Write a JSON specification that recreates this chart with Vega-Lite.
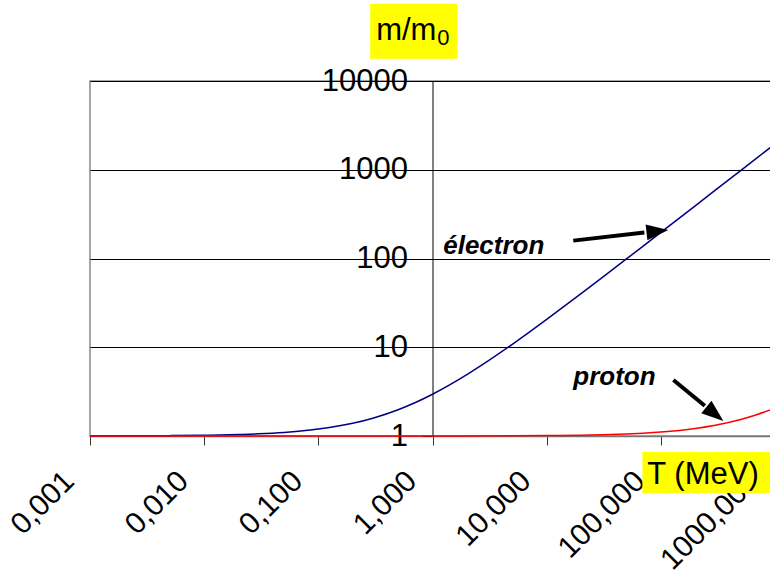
{
  "$schema": "https://vega.github.io/schema/vega-lite/v6.json",
  "width": 685,
  "height": 355,
  "autosize": {"type": "none"},
  "padding": {"left": 90, "top": 81, "right": -5, "bottom": 141},
  "background": "white",
  "config": {"view": {"stroke": "#888888", "strokeWidth": 1.5}, "font": "Liberation Sans"},
  "encoding": {
    "x": {"field": "T", "type": "quantitative",
      "scale": {"type": "log", "domain": [0.001, 1000], "nice": false},
      "axis": {"values": [0.001, 0.01, 0.1, 1, 10, 100, 1000],
        "labelExpr": "replace(format(datum.value,'.3f'),'.',',')",
        "labelAngle": -45, "labelAlign": "right", "labelBaseline": "middle",
        "labelFontSize": 30, "labelFont": "Liberation Sans", "labelColor": "black",
        "labelOffset": -21, "labelPadding": 31,
        "labelFlush": false, "labelOverlap": false, "labelBound": false,
        "tickSize": 9, "tickColor": "#333333", "domainColor": "#777777", "domainWidth": 1.5,
        "grid": false, "title": null}},
    "y": {"field": "m", "type": "quantitative",
      "scale": {"type": "log", "domain": [1, 10000], "nice": false},
      "axis": {"values": [1, 10, 100, 1000, 10000], "format": "d", "offset": -342.5,
        "labelFontSize": 31, "labelFont": "Liberation Sans", "labelColor": "black", "labelPadding": 15,
        "labelFlush": false, "labelOverlap": false, "labelBound": false,
        "tickSize": 10, "tickColor": "black", "domainColor": "black", "domainWidth": 1,
        "grid": true, "gridColor": "black", "gridWidth": 1, "gridOpacity": 1, "title": null}}
  },
  "layer": [
    {
      "data": {"values": [
        {"T": 0.2845, "T2": 1.646, "m": 74200, "m2": 17800},
        {"T": 68.9, "T2": 3000, "m": 0.66, "m2": 0.2276}
      ]},
      "mark": {"type": "rect", "color": "#FFFF00"},
      "encoding": {"x2": {"field": "T2"}, "y2": {"field": "m2"}}
    },
    {
      "data": {"values": [
        {"particle": "électron", "T": 0.001, "m": 1.00196},
        {"particle": "électron", "T": 0.002, "m": 1.00391},
        {"particle": "électron", "T": 0.005, "m": 1.00978},
        {"particle": "électron", "T": 0.01, "m": 1.01957},
        {"particle": "électron", "T": 0.02, "m": 1.03914},
        {"particle": "électron", "T": 0.03, "m": 1.05871},
        {"particle": "électron", "T": 0.05, "m": 1.09785},
        {"particle": "électron", "T": 0.07, "m": 1.13699},
        {"particle": "électron", "T": 0.1, "m": 1.1957},
        {"particle": "électron", "T": 0.2, "m": 1.39139},
        {"particle": "électron", "T": 0.3, "m": 1.58708},
        {"particle": "électron", "T": 0.5, "m": 1.97847},
        {"particle": "électron", "T": 0.7, "m": 2.36986},
        {"particle": "électron", "T": 1, "m": 2.95695},
        {"particle": "électron", "T": 2, "m": 4.91389},
        {"particle": "électron", "T": 3, "m": 6.87084},
        {"particle": "électron", "T": 5, "m": 10.7847},
        {"particle": "électron", "T": 7, "m": 14.6986},
        {"particle": "électron", "T": 10, "m": 20.5695},
        {"particle": "électron", "T": 20, "m": 40.1389},
        {"particle": "électron", "T": 30, "m": 59.7084},
        {"particle": "électron", "T": 50, "m": 98.8474},
        {"particle": "électron", "T": 70, "m": 137.986},
        {"particle": "électron", "T": 100, "m": 196.695},
        {"particle": "électron", "T": 200, "m": 392.389},
        {"particle": "électron", "T": 300, "m": 588.084},
        {"particle": "électron", "T": 500, "m": 979.474},
        {"particle": "électron", "T": 700, "m": 1370.86},
        {"particle": "électron", "T": 1000, "m": 1957.95},
        {"particle": "proton", "T": 0.001, "m": 1.000001},
        {"particle": "proton", "T": 0.01, "m": 1.00001},
        {"particle": "proton", "T": 0.1, "m": 1.000107},
        {"particle": "proton", "T": 1, "m": 1.001066},
        {"particle": "proton", "T": 2, "m": 1.00213},
        {"particle": "proton", "T": 5, "m": 1.00533},
        {"particle": "proton", "T": 10, "m": 1.01066},
        {"particle": "proton", "T": 20, "m": 1.02132},
        {"particle": "proton", "T": 30, "m": 1.03197},
        {"particle": "proton", "T": 50, "m": 1.05329},
        {"particle": "proton", "T": 70, "m": 1.07461},
        {"particle": "proton", "T": 100, "m": 1.10658},
        {"particle": "proton", "T": 200, "m": 1.21316},
        {"particle": "proton", "T": 300, "m": 1.31974},
        {"particle": "proton", "T": 500, "m": 1.5329},
        {"particle": "proton", "T": 700, "m": 1.74606},
        {"particle": "proton", "T": 1000, "m": 2.06579}
      ]},
      "mark": {"type": "line", "strokeWidth": 1.5, "interpolate": "monotone"},
      "encoding": {
        "color": {"field": "particle", "type": "nominal",
          "scale": {"domain": ["électron", "proton"], "range": ["#000080", "#FF0000"]},
          "legend": null}
      }
    },
    {
      "data": {"values": [
        {"T": 17.1, "m": 159, "T2": 71.8, "m2": 196},
        {"T": 128.8, "m": 4.28, "T2": 242.6, "m2": 2.19}
      ]},
      "mark": {"type": "rule", "strokeWidth": 4, "color": "black"},
      "encoding": {"x2": {"field": "T2"}, "y2": {"field": "m2"}}
    },
    {
      "data": {"values": [{"T": 116.4, "m": 210}]},
      "mark": {"type": "point", "shape": "M0,0 L-2,-0.73 L-2,0.73 Z", "size": 484, "filled": true, "color": "black", "opacity": 1, "strokeWidth": 0, "angle": -6.4}
    },
    {
      "data": {"values": [{"T": 353, "m": 1.476}]},
      "mark": {"type": "point", "shape": "M0,0 L-2,-0.73 L-2,0.73 Z", "size": 484, "filled": true, "color": "black", "opacity": 1, "strokeWidth": 0, "angle": 39.4}
    },
    {
      "data": {"values": [
        {"T": 1.241, "m": 112.7, "label": "électron"},
        {"T": 17.1, "m": 3.76, "label": "proton"}
      ]},
      "mark": {"type": "text", "font": "Liberation Sans", "fontSize": 26, "fontStyle": "italic", "fontWeight": "bold", "align": "left", "baseline": "alphabetic", "color": "black"},
      "encoding": {"text": {"field": "label"}}
    },
    {
      "data": {"values": [
        {"T": 0.321, "m": 29130, "label": "m/m"},
        {"T": 76.2, "m": 0.2876, "label": "T (MeV)"}
      ]},
      "mark": {"type": "text", "font": "Liberation Sans", "fontSize": 31, "align": "left", "baseline": "alphabetic", "color": "black"},
      "encoding": {"text": {"field": "label"}}
    },
    {
      "data": {"values": [{"T": 1.099, "m": 25600, "label": "0"}]},
      "mark": {"type": "text", "font": "Liberation Sans", "fontSize": 22, "align": "left", "baseline": "alphabetic", "color": "black"},
      "encoding": {"text": {"field": "label"}}
    }
  ]
}
